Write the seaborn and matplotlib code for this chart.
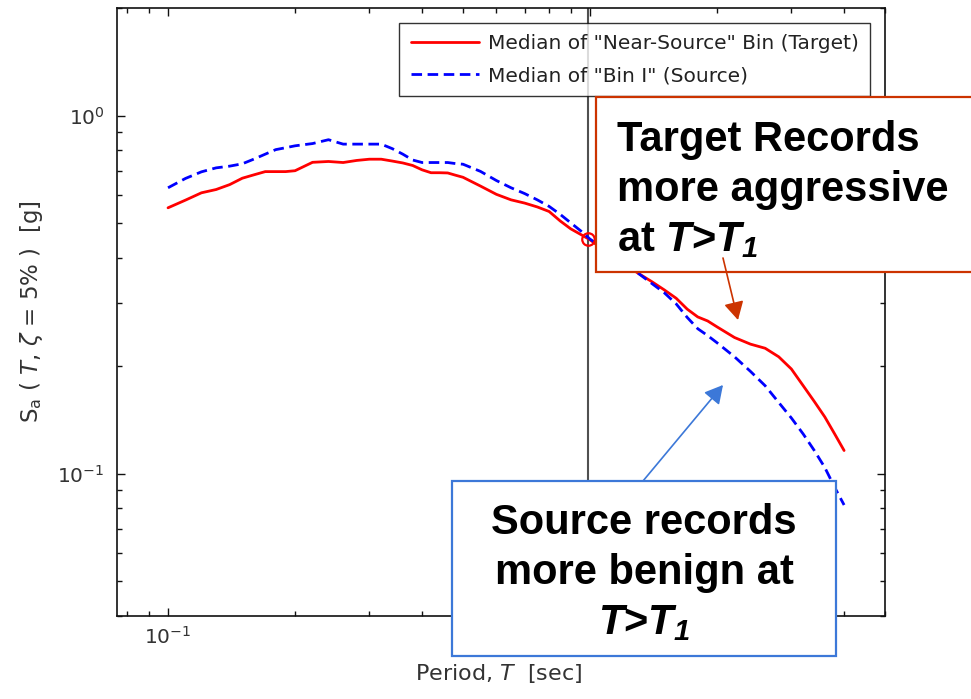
import numpy as np
import pandas as pd
import matplotlib
matplotlib.use("Agg")
import matplotlib.pyplot as plt
import matplotlib.ticker as mticker
from matplotlib.patches import Rectangle, FancyArrowPatch
import seaborn as sns

# ---------------- data ----------------
period = [0.10, 0.11, 0.12, 0.13, 0.14, 0.15, 0.16, 0.17, 0.18, 0.19, 0.20,
          0.22, 0.24, 0.26, 0.28, 0.30, 0.32, 0.34, 0.36, 0.38, 0.40, 0.42, 0.44, 0.46, 0.48, 0.50,
          0.55, 0.60, 0.65, 0.70, 0.75, 0.80, 0.85, 0.90, 0.95, 1.0,
          1.1, 1.2, 1.3, 1.4, 1.5, 1.6, 1.7, 1.8, 1.9, 2.0,
          2.2, 2.4, 2.6, 2.8, 3.0, 3.2, 3.4, 3.6, 3.8, 4.0]
sa_target = [0.553, 0.581, 0.609, 0.622, 0.642, 0.669, 0.684, 0.698, 0.698, 0.698, 0.702,
             0.741, 0.745, 0.740, 0.750, 0.756, 0.756, 0.747, 0.738, 0.726, 0.706, 0.693, 0.693, 0.692, 0.682, 0.673,
             0.636, 0.603, 0.582, 0.570, 0.556, 0.540, 0.508, 0.483, 0.466, 0.450,
             0.414, 0.387, 0.363, 0.344, 0.326, 0.309, 0.288, 0.274, 0.267, 0.257,
             0.240, 0.230, 0.224, 0.212, 0.196, 0.176, 0.159, 0.144, 0.129, 0.116]
sa_source = [0.629, 0.668, 0.697, 0.715, 0.723, 0.734, 0.757, 0.781, 0.804, 0.814, 0.824,
             0.836, 0.857, 0.833, 0.833, 0.833, 0.833, 0.809, 0.781, 0.752, 0.740, 0.740, 0.740, 0.740, 0.735, 0.732,
             0.699, 0.659, 0.629, 0.606, 0.582, 0.558, 0.530, 0.502, 0.477, 0.452,
             0.419, 0.389, 0.363, 0.340, 0.320, 0.298, 0.273, 0.254, 0.243, 0.232,
             0.212, 0.193, 0.176, 0.158, 0.143, 0.129, 0.116, 0.104, 0.0915, 0.0817]
T1 = 0.99
sa_T1 = 0.451
label_target = 'Median of "Near-Source" Bin (Target)'
label_source = 'Median of "Bin I" (Source)'
x_tick_values = [0.1, 1.0]
x_tick_labels = ["$\\mathdefault{10^{-1}}$", ""]   # the 10^0 label is hidden behind the box
y_tick_values = [0.1, 1.0]
y_tick_labels = ["$\\mathdefault{10^{-1}}$", "$\\mathdefault{10^{0}}$"]

# ---------------- style ----------------
sns.set_style("ticks")
plt.rcParams["font.family"] = ["DejaVu Sans"]
plt.rcParams.update({
    "mathtext.fontset": "custom",
    "mathtext.rm": "DejaVu Sans",
    "mathtext.it": "DejaVu Sans:italic",
    "mathtext.bf": "DejaVu Sans:bold",
    "mathtext.bfit": "Liberation Sans:bold:italic",
})

W, H = 971, 699
fig = plt.figure(figsize=(W / 100, H / 100), dpi=100)
fx = lambda px: px / W
fy = lambda py: 1 - py / H
ax = fig.add_axes([fx(117), fy(616), fx(885) - fx(117), fy(8) - fy(616)])

df_t = pd.DataFrame({"period": period, "sa": sa_target})
df_s = pd.DataFrame({"period": period, "sa": sa_source})
sns.lineplot(data=df_t, x="period", y="sa", ax=ax, color="#FF0000", lw=2.0, label=label_target)
sns.lineplot(data=df_s, x="period", y="sa", ax=ax, color="#0000FF", lw=2.0, label=label_source)
ax.lines[1].set_dashes((3.8, 2.0))

ax.set_xscale("log")
ax.set_yscale("log")
ax.set_xlim(0.0757, 5.0)
ax.set_ylim(0.04, 2.0)

ax.axvline(T1, color="#505050", lw=1.5, zorder=1.5)
ax.plot([T1], [sa_T1], marker="o", ms=9, mfc="none", mec="#FF0000", mew=1.6, ls="none", zorder=3)

ax.xaxis.set_major_locator(mticker.FixedLocator(x_tick_values))
ax.xaxis.set_major_formatter(mticker.FixedFormatter(x_tick_labels))
ax.yaxis.set_major_locator(mticker.FixedLocator(y_tick_values))
ax.yaxis.set_major_formatter(mticker.FixedFormatter(y_tick_labels))
ax.xaxis.set_minor_formatter(mticker.NullFormatter())
ax.yaxis.set_minor_formatter(mticker.NullFormatter())
ax.tick_params(which="both", direction="in", top=True, right=True, colors="#111111",
               labelcolor="#333333", width=1.0)
ax.tick_params(which="major", length=6, labelsize=14.5)
ax.tick_params(which="minor", length=3.5)
ax.tick_params(axis="x", which="major", pad=7)
ax.tick_params(axis="y", which="major", pad=9)
for s in ax.spines.values():
    s.set_linewidth(1.2)
    s.set_color("#111111")

ax.set_xlabel("Period, $T$  [sec]", fontsize=16, color="#333333")
ax.set_ylabel("S$_\\mathregular{a}$ ( $T$, $\\zeta$ = 5% )  [g]", fontsize=16.5, color="#333333")
ax.xaxis.set_label_coords(0.497, -0.075)
ax.yaxis.set_label_coords(-0.094, 0.5)

leg = ax.legend(loc="upper right", bbox_to_anchor=(fx(870), fy(23)), bbox_transform=fig.transFigure,
                borderaxespad=0, fontsize=14.5, frameon=True, fancybox=False, handlelength=3.4,
                handletextpad=0.45, borderpad=0.55, labelspacing=0.65)
leg.get_frame().set_edgecolor("black")
leg.get_frame().set_linewidth(1.0)
for t in leg.get_texts():
    t.set_color("#222222")

# ---------------- annotation boxes ----------------
red_c = "#CC3300"
blue_c = "#3C78D8"
fig.add_artist(Rectangle((fx(596), fy(272)), fx(1000) - fx(596), fy(97) - fy(272),
                         transform=fig.transFigure, fc="white", ec=red_c, lw=1.6, zorder=5))
fig.text(fx(617), fy(190),
         "Target Records\nmore aggressive\nat $\\mathbfit{T}$>$\\mathbfit{T}_{\\mathbfit{1}}$",
         fontsize=30, fontweight="bold", family="Liberation Sans", ha="left", va="center",
         linespacing=1.33, zorder=6, color="black")

fig.add_artist(Rectangle((fx(452), fy(656)), fx(836) - fx(452), fy(481) - fy(656),
                         transform=fig.transFigure, fc="white", ec=blue_c, lw=1.6, zorder=5))
fig.text(fx(644), fy(573),
         "Source records\nmore benign at\n$\\mathbfit{T}$>$\\mathbfit{T}_{\\mathbfit{1}}$",
         fontsize=30, fontweight="bold", family="Liberation Sans", ha="center", va="center",
         multialignment="center", linespacing=1.33, zorder=6, color="black")

fig.add_artist(FancyArrowPatch((fx(723), fy(258)), (fx(738), fy(320)), transform=fig.transFigure,
                               arrowstyle="-|>,head_length=0.55,head_width=0.3", mutation_scale=20,
                               color=red_c, lw=1.2, shrinkA=0, shrinkB=0, zorder=7))
fig.add_artist(FancyArrowPatch((fx(643), fy(481)), (fx(723), fy(385)), transform=fig.transFigure,
                               arrowstyle="-|>,head_length=0.55,head_width=0.3", mutation_scale=20,
                               color=blue_c, lw=1.2, shrinkA=0, shrinkB=0, zorder=7))

fig.savefig("out.png", dpi=100, facecolor="white")
